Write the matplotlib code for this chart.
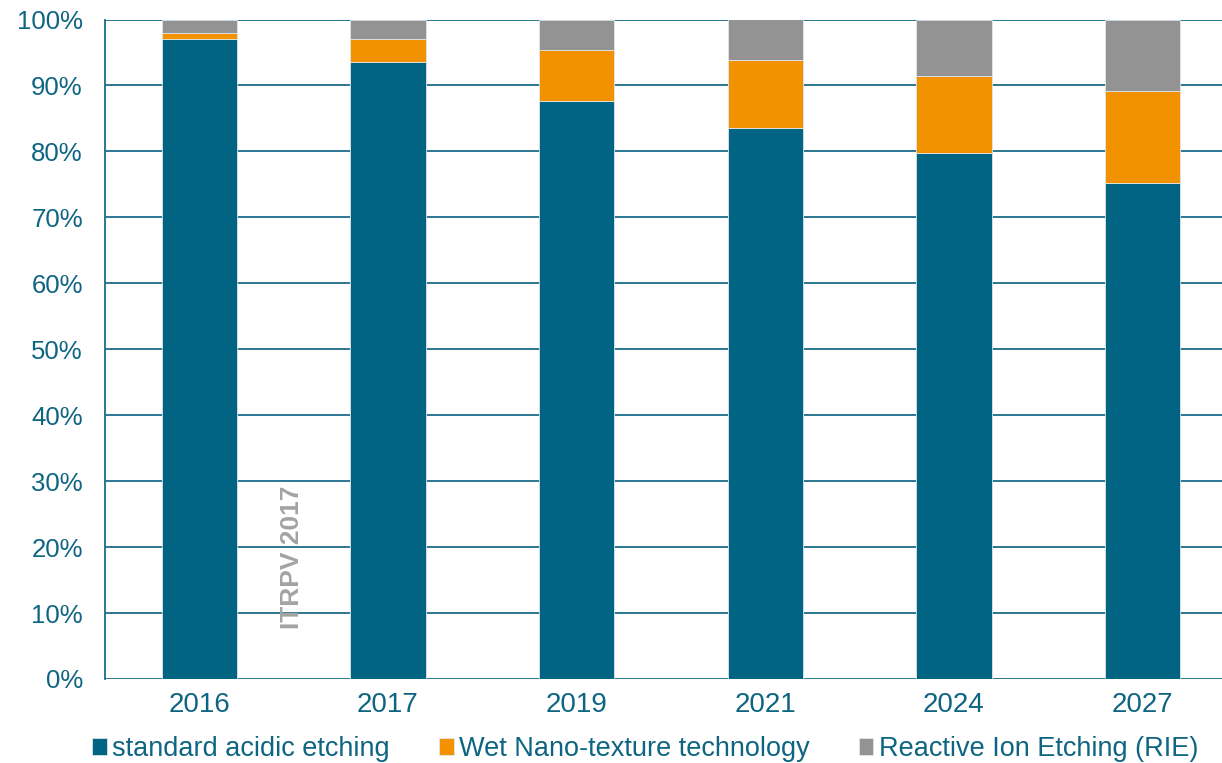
import numpy as np
import matplotlib.pyplot as plt
from matplotlib.ticker import PercentFormatter

plt.rcParams['font.family'] = ['Liberation Sans', 'DejaVu Sans']

years = ["2016", "2017", "2019", "2021", "2024", "2027"]
acidic = [97.0, 93.5, 87.6, 83.6, 79.7, 75.2]
nano = [1.0, 3.6, 7.7, 10.2, 11.8, 14.0]
rie = [2.0, 2.9, 4.7, 6.2, 8.5, 10.8]

labels = ["standard acidic etching", "Wet Nano-texture technology", "Reactive Ion Etching (RIE)"]
colors = ["#006482", "#F39200", "#939393"]
text_col = "#0E6582"
grid_col = "#1D6C88"

fig = plt.figure(figsize=(12.22, 7.63), dpi=100)
ax = fig.add_axes([105 / 1222, 1 - 679 / 763, 1132 / 1222, 659.5 / 763])

x = np.arange(len(years))
w = 0.4
bottom = np.zeros(len(years))
handles = []
for vals, lab, col in zip([acidic, nano, rie], labels, colors):
    b = ax.bar(x, vals, w, bottom=bottom, color=col, label=lab,
               edgecolor="#dfe6ea", linewidth=0.6, zorder=3)
    handles.append(b)
    bottom += np.array(vals)

ax.set_xlim(-0.5, len(years) - 0.5)
ax.set_ylim(0, 100)
ax.set_yticks(np.arange(0, 101, 10))
ax.yaxis.set_major_formatter(PercentFormatter(decimals=0))
ax.set_xticks(x)
ax.set_xticklabels(years)
ax.tick_params(axis="both", length=0, labelcolor=text_col)
ax.tick_params(axis="y", pad=16, labelsize=18.5)
ax.tick_params(axis="x", pad=9, labelsize=20)
ax.grid(axis="y", color=grid_col, linewidth=1.3, zorder=1)
for s in ["top", "right", "bottom"]:
    ax.spines[s].set_visible(False)
ax.spines["left"].set_color(grid_col)
ax.spines["left"].set_linewidth(1.3)

# watermark
ax.text(0.49, 18.5, "ITRPV 2017", rotation=90, ha="center", va="center",
        fontsize=19, fontweight="bold", color="#a3a3a3", zorder=4)

fig.legend(handles=handles, labels=labels, loc="center left", bbox_to_anchor=(92 / 1222, 1 - 749 / 763),
           ncol=3, frameon=False, fontsize=19.5, labelcolor=text_col, borderaxespad=0, borderpad=0,
           handlelength=0.55, handleheight=0.55, handletextpad=0.2, columnspacing=1.8)

fig.savefig("out.png", dpi=100)
